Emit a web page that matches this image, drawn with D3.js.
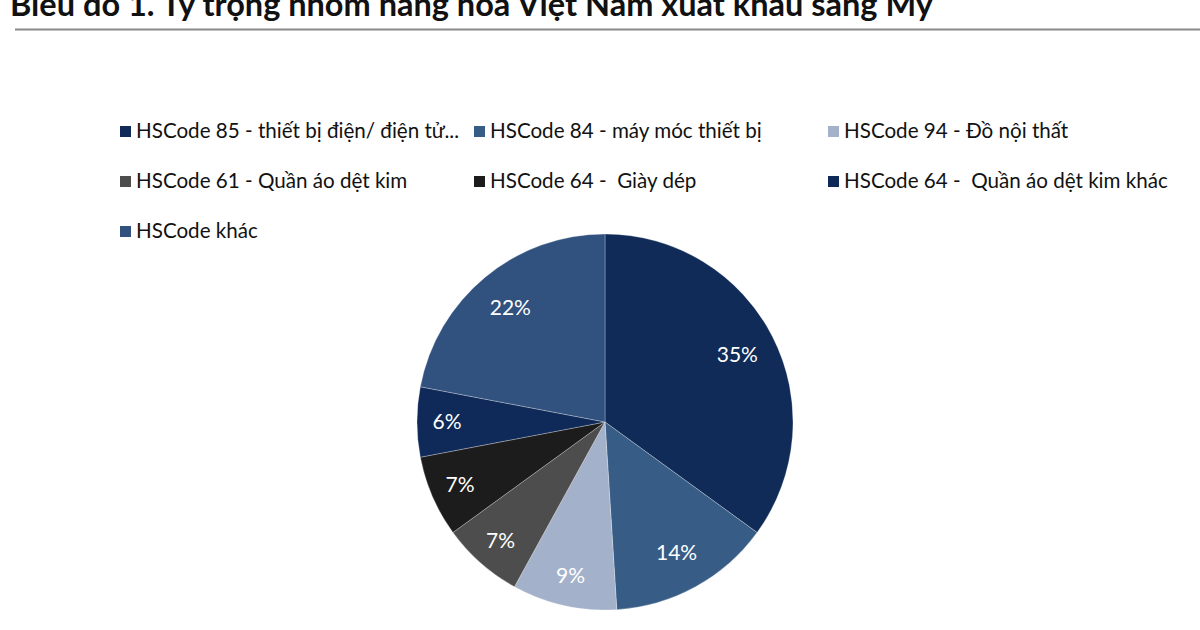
<!DOCTYPE html>
<html><head><meta charset="utf-8">
<script src="https://cdn.jsdelivr.net/npm/d3@7/dist/d3.min.js"></script>
<style>body{margin:0;background:#fff;} svg{display:block;}</style>
</head><body>
<svg id="c" width="1200" height="630"></svg>
<script>
const title = "Biểu đồ 1. Tỷ trọng nhóm hàng hoá Việt Nam xuất khẩu sang Mỹ";
const categories = [
  "HSCode 85 - thiết bị điện/ điện tử...",
  "HSCode 84 - máy móc thiết bị",
  "HSCode 94 - Đồ nội thất",
  "HSCode 61 - Quần áo dệt kim",
  "HSCode 64 -  Giày dép",
  "HSCode 64 -  Quần áo dệt kim khác",
  "HSCode khác"
];
const values = [35, 14, 9, 7, 7, 6, 22];
const colors = ["#102b57", "#375d87", "#a4b1ca", "#4d4d4d", "#1c1c1c", "#0f2a58", "#31517f"];

const svg = d3.select("#c");
const font = "Lato, 'Open Sans', sans-serif";

svg.append("text").attr("x", 10).attr("y", 16)
  .attr("font-family", font).attr("font-weight", "bold").attr("font-size", 32.5)
  .attr("fill", "#111").text(title);
svg.append("line").attr("x1", 15).attr("x2", 1200).attr("y1", 29.5).attr("y2", 29.5)
  .attr("stroke", "#8a8a8a").attr("stroke-width", 2);

// legend
const colX = [120, 474, 828], rowY = [131, 181, 231];
const leg = svg.append("g");
categories.forEach((c, i) => {
  const x = colX[i % 3], y = rowY[Math.floor(i / 3)];
  leg.append("rect").attr("x", x).attr("y", y - 5).attr("width", 11).attr("height", 11).attr("fill", colors[i]);
  leg.append("text").attr("x", x + 16).attr("y", y + 7)
    .attr("font-family", font).attr("font-size", 20.6).attr("fill", "#111")
    .attr("xml:space", "preserve").style("white-space", "pre").text(c);
});

// pie
const cx = 605, cy = 422, R = 188;
const pie = d3.pie().sort(null).value(d => d);
const arcs = pie(values);
const arc = d3.arc().innerRadius(0).outerRadius(R);
const labelPos = d => {
  const span = d.endAngle - d.startAngle;
  const r = R * (span < 0.7 ? 0.84 : 0.79);
  return d3.arc().innerRadius(r).outerRadius(r).centroid(d);
};
const g = svg.append("g").attr("transform", `translate(${cx},${cy})`);
g.selectAll("path").data(arcs).join("path")
  .attr("d", arc).attr("fill", (d, i) => colors[i])
  .attr("stroke", "rgba(255,255,255,0.35)").attr("stroke-width", 0.8);
g.selectAll("text").data(arcs).join("text")
  .attr("transform", d => `translate(${labelPos(d)})`)
  .attr("text-anchor", "middle").attr("dy", "0.35em")
  .attr("font-family", font).attr("font-size", 21).attr("fill", "#fff")
  .text(d => d.data + "%");
</script>
</body></html>
